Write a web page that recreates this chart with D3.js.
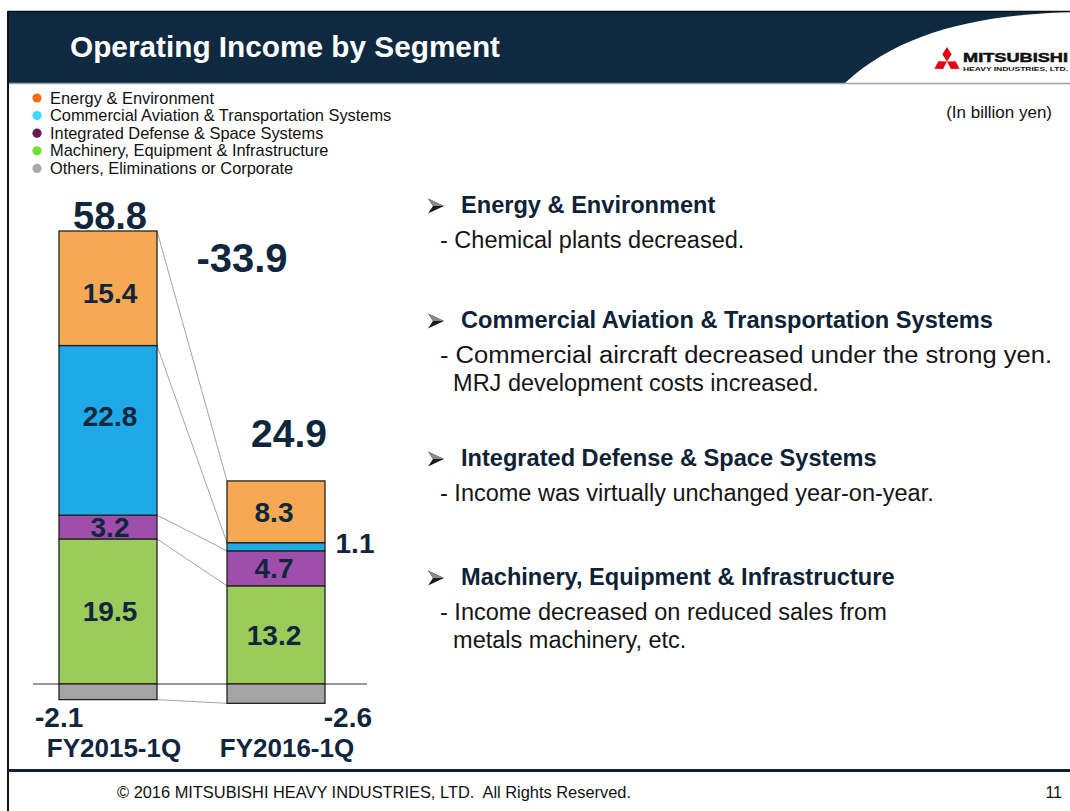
<!DOCTYPE html>
<html>
<head>
<meta charset="utf-8">
<script src="https://cdn.jsdelivr.net/npm/d3@7"></script>
<style>
  html, body { margin: 0; padding: 0; background: #fff; }
  svg { display: block; }
  text { font-family: Arial, "Liberation Sans", sans-serif; }
</style>
</head>
<body>
<svg id="chart" width="1070" height="811"></svg>
<script>
// ---------------- DATA ----------------
const categories = ["FY2015-1Q", "FY2016-1Q"];
const segments = [
  "Energy & Environment",
  "Commercial Aviation & Transportation Systems",
  "Integrated Defense & Space Systems",
  "Machinery, Equipment & Infrastructure",
  "Others, Eliminations or Corporate"
];
const energyValues    = [15.4, 8.3];
const aviationValues  = [22.8, 1.1];
const defenseValues   = [3.2, 4.7];
const machineryValues = [19.5, 13.2];
const othersValues    = [-2.1, -2.6];
const totals = [58.8, 24.9];
const changeLabel = "-33.9";

const title = "Operating Income by Segment";
const unitLabel = "(In billion yen)";
const comments = [
  { head: "Energy & Environment", lines: ["- Chemical plants decreased."] },
  { head: "Commercial Aviation & Transportation Systems",
    lines: ["- Commercial aircraft decreased under the strong yen.", "  MRJ development costs increased."] },
  { head: "Integrated Defense & Space Systems", lines: ["- Income was virtually unchanged year-on-year."] },
  { head: "Machinery, Equipment & Infrastructure",
    lines: ["- Income decreased on reduced sales from", "  metals machinery, etc."] }
];
const footerText = "\u00A9 2016 MITSUBISHI HEAVY INDUSTRIES, LTD.  All Rights Reserved.";
const pageNumber = "11";

// ---------------- STYLE ----------------
const barColors = ["#F5A952", "#1FA9E6", "#9D4FAB", "#9CCB5B", "#A5A5A5"];
const legendColors = ["#FF6A14", "#38DEFF", "#6A1A4E", "#72DC30", "#A9A9A9"];
const navy = "#10263D";
const headerNavy = "#0F2A40";

const svg = d3.select("#chart");

// ---------------- SLIDE FRAME ----------------
svg.append("rect").attr("x", 0).attr("y", 0).attr("width", 1070).attr("height", 811).attr("fill", "#fff");
svg.append("rect").attr("x", 8).attr("y", 11).attr("width", 1070).attr("height", 72).attr("fill", headerNavy);
svg.append("path")
  .attr("d", "M845,83 C900,32 978,15 1072,12 L1072,83 Z")
  .attr("fill", "#fff");
svg.append("line").attr("x1", 8).attr("x2", 1070).attr("y1", 11.5).attr("y2", 11.5).attr("stroke", "#111").attr("stroke-width", 1.5);
svg.append("line").attr("x1", 8).attr("x2", 1070).attr("y1", 83.5).attr("y2", 83.5).attr("stroke", "#9aa3ab").attr("stroke-width", 1.5);
svg.append("line").attr("x1", 8).attr("x2", 8).attr("y1", 11).attr("y2", 811).attr("stroke", "#111").attr("stroke-width", 2);
svg.append("line").attr("x1", 8).attr("x2", 1070).attr("y1", 770.5).attr("y2", 770.5).attr("stroke", "#0F2235").attr("stroke-width", 3);

svg.append("text").attr("x", 70).attr("y", 57)
  .attr("fill", "#fff").attr("font-size", 30).attr("font-weight", "bold")
  .attr("textLength", 430).attr("lengthAdjust", "spacingAndGlyphs")
  .text(title);

// logo
const logo = svg.append("g");
const lc = [947, 61.5];
[0, 120, 240].forEach(a => {
  logo.append("path")
    .attr("d", `M${lc[0]},${lc[1]} L${lc[0] + 4.6},${lc[1] - 7.25} L${lc[0]},${lc[1] - 14.5} L${lc[0] - 4.6},${lc[1] - 7.25} Z`)
    .attr("fill", "#E60012")
    .attr("transform", `rotate(${a},${lc[0]},${lc[1]})`);
});
logo.append("text").attr("x", 963).attr("y", 62).attr("font-size", 13).attr("font-weight", 900)
  .attr("fill", "#111").attr("stroke", "#111").attr("stroke-width", 0.5)
  .attr("textLength", 105).attr("lengthAdjust", "spacingAndGlyphs").text("MITSUBISHI");
logo.append("text").attr("x", 963).attr("y", 70.5).attr("font-size", 6).attr("font-weight", "bold")
  .attr("fill", "#111").attr("textLength", 105).attr("lengthAdjust", "spacingAndGlyphs").text("HEAVY INDUSTRIES, LTD.");

// ---------------- LEGEND ----------------
const legend = svg.append("g");
segments.forEach((s, i) => {
  const cy = 98 + i * 17.6;
  legend.append("circle").attr("cx", 37).attr("cy", cy).attr("r", 4.6).attr("fill", legendColors[i]);
  legend.append("text").attr("x", 50).attr("y", cy + 5.5).attr("font-size", 16.4).attr("fill", "#111").text(s);
});
svg.append("text").attr("x", 1052).attr("y", 118).attr("text-anchor", "end")
  .attr("font-size", 17).attr("fill", "#111").text(unitLabel);

// ---------------- CHART ----------------
const x = d3.scaleBand().domain(categories).range([59, 325]).paddingInner(70 / 168).paddingOuter(0);
const y = d3.scaleLinear().domain([0, 60.9]).range([684, 231]);
const bw = x.bandwidth();

const seriesValues = [energyValues, aviationValues, defenseValues, machineryValues, othersValues];
const stackOrder = [3, 2, 1, 0];
const rects = [];
categories.forEach((c, ci) => {
  let base = 0;
  stackOrder.forEach(si => {
    const v = seriesValues[si][ci];
    rects.push({ cat: c, ci, seg: si, v0: base, v1: base + v, value: v });
    base += v;
  });
  rects.push({ cat: c, ci, seg: 4, v0: othersValues[ci], v1: 0, value: othersValues[ci] });
});
const findR = (ci, si) => rects.find(r => r.ci === ci && r.seg === si);

// zero line
svg.append("line").attr("x1", 33).attr("x2", 367).attr("y1", y(0)).attr("y2", y(0))
  .attr("stroke", "#333").attr("stroke-width", 1.2);

// connector lines between bars
const connectors = [
  [findR(0, 0).v1, findR(1, 0).v1],
  [findR(0, 1).v1, findR(1, 1).v1],
  [findR(0, 2).v1, findR(1, 2).v1],
  [findR(0, 3).v1, findR(1, 3).v1],
  [othersValues[0], othersValues[1]]
];
svg.append("g").selectAll("line").data(connectors).join("line")
  .attr("x1", x(categories[0]) + bw).attr("x2", x(categories[1]))
  .attr("y1", d => y(d[0])).attr("y2", d => y(d[1]))
  .attr("stroke", "#9a9a9a").attr("stroke-width", 0.9);

svg.append("g").selectAll("rect").data(rects).join("rect")
  .attr("x", d => x(d.cat))
  .attr("y", d => y(Math.max(d.v0, d.v1)))
  .attr("width", bw)
  .attr("height", d => Math.abs(y(d.v0) - y(d.v1)))
  .attr("fill", d => barColors[d.seg])
  .attr("stroke", "#222").attr("stroke-width", 1.3);

// segment labels inside bars
const nudge = { "0-0": 5, "0-1": -14 };
const inLabels = rects.filter(r => r.seg !== 4 && !(r.ci === 1 && r.seg === 1));
svg.append("g").selectAll("text").data(inLabels).join("text")
  .attr("x", d => x(d.cat) + bw / 2 + (d.ci === 0 ? 2 : -2))
  .attr("y", d => (y(d.v0) + y(d.v1)) / 2 + 10 + (nudge[d.ci + "-" + d.seg] || 0))
  .attr("text-anchor", "middle").attr("font-size", 28).attr("font-weight", "bold").attr("fill", navy)
  .text(d => d.value.toFixed(1));

svg.append("text").attr("x", x(categories[1]) + bw + 30).attr("y", 553)
  .attr("text-anchor", "middle").attr("font-size", 28).attr("font-weight", "bold").attr("fill", navy)
  .text(aviationValues[1].toFixed(1));

// totals
svg.append("text").attr("x", x(categories[0]) + bw / 2 + 2).attr("y", y(findR(0, 0).v1) - 2)
  .attr("text-anchor", "middle").attr("font-size", 38).attr("font-weight", "bold").attr("fill", navy)
  .text(totals[0].toFixed(1));
svg.append("text").attr("x", x(categories[1]) + bw / 2 + 13).attr("y", 447)
  .attr("text-anchor", "middle").attr("font-size", 39).attr("font-weight", "bold").attr("fill", navy)
  .text(totals[1].toFixed(1));
svg.append("text").attr("x", 242).attr("y", 272)
  .attr("text-anchor", "middle").attr("font-size", 40).attr("font-weight", "bold").attr("fill", navy)
  .text(changeLabel);

// others labels
svg.append("text").attr("x", 35).attr("y", 727)
  .attr("font-size", 28).attr("font-weight", "bold").attr("fill", navy).text(othersValues[0].toFixed(1));
svg.append("text").attr("x", 372).attr("y", 727).attr("text-anchor", "end")
  .attr("font-size", 28).attr("font-weight", "bold").attr("fill", navy).text(othersValues[1].toFixed(1));

// category axis labels
svg.append("g").selectAll("text").data(categories).join("text")
  .attr("x", d => x(d) + bw / 2 + (d === categories[0] ? 6 : 11))
  .attr("y", 757)
  .attr("text-anchor", "middle").attr("font-size", 26).attr("font-weight", "bold").attr("fill", navy)
  .text(d => d);

// ---------------- COMMENTARY ----------------
const headY = [213, 328, 466, 585];
const lineWidthFix = { "1-0": 612 };
const cg = svg.append("g");
comments.forEach((c, i) => {
  const ay = headY[i] - 7;
  cg.append("path")
    .attr("d", `M428,${ay - 7.5} L444,${ay} L428,${ay + 7.5} L433,${ay} Z`)
    .attr("fill", "#1a1a1a");
  cg.append("path")
    .attr("d", `M428,${ay - 7.5} L444,${ay} L433,${ay} Z`)
    .attr("fill", "#8a8a8a");
  cg.append("text").attr("x", 461).attr("y", headY[i]).attr("font-size", 23.6).attr("font-weight", "bold")
    .attr("fill", "#0E2236").text(c.head);
  c.lines.forEach((l, j) => {
    const t = cg.append("text").attr("x", 440).attr("y", headY[i] + 35 + j * 28).attr("font-size", 23.5)
      .attr("fill", "#151515").style("white-space", "pre").text(l);
    const fix = lineWidthFix[i + "-" + j];
    if (fix) t.attr("textLength", fix).attr("lengthAdjust", "spacingAndGlyphs");
  });
});

// ---------------- FOOTER ----------------
svg.append("text").attr("x", 117).attr("y", 798).attr("font-size", 16.4).attr("fill", "#111")
  .style("white-space", "pre").text(footerText);
svg.append("text").attr("x", 1062).attr("y", 798).attr("text-anchor", "end").attr("font-size", 16).attr("fill", "#111")
  .text(pageNumber);
</script>
</body>
</html>
